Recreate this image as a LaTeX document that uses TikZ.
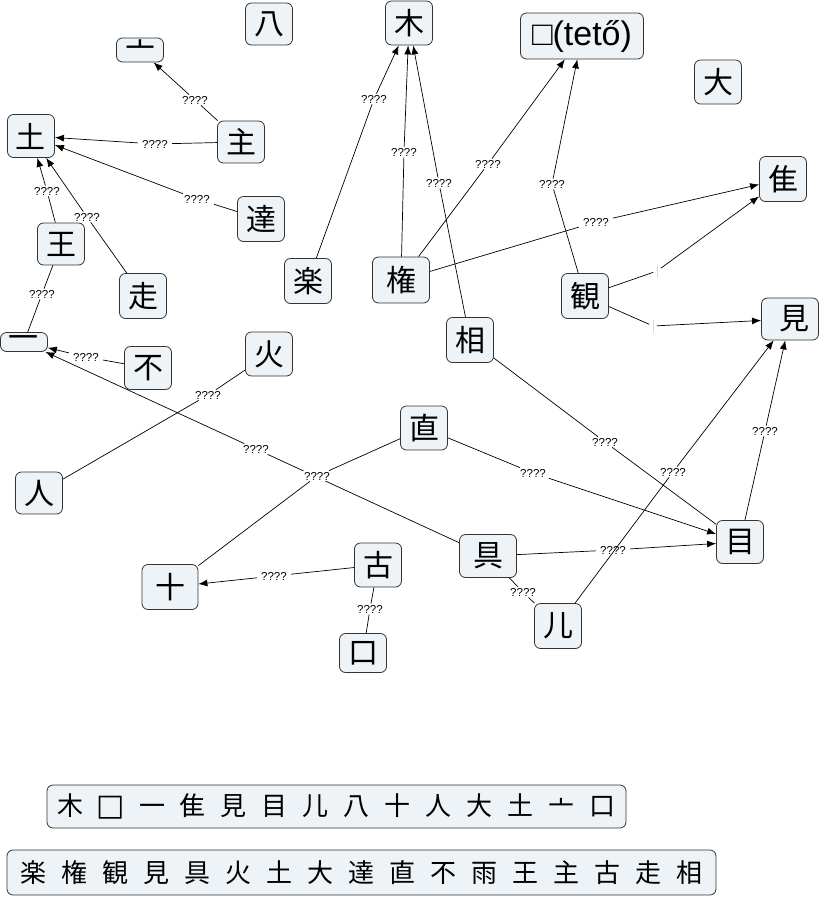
\documentclass[tikz,border=0pt]{standalone}
\usepackage{fontspec}
\newfontfamily\cjk{Noto Sans CJK JP}
\newfontfamily\latinfont{Liberation Sans}
\newfontfamily\boxfont{DejaVu Sans}
\usetikzlibrary{arrows.meta}
\definecolor{conceptfill}{RGB}{237,243,246}
\definecolor{conceptline}{RGB}{51,51,51}
\begin{document}
\begin{tikzpicture}[x=1pt,y=-1pt,line width=.7pt,>={Latex[length=9pt,width=7pt]},
    concept/.style={draw=conceptline,fill=conceptfill,rounded corners=6pt,line width=.8pt,
        minimum width=47pt,minimum height=44pt,inner sep=0pt,font=\cjk\fontsize{30}{30}\selectfont},
    legend/.style={concept,font=\cjk\fontsize{26}{26}\selectfont},
    link/.style={fill=white,inner xsep=4pt,inner ysep=1pt,font=\latinfont\fontsize{11.5}{11.5}\selectfont},
    blank/.style={fill=white,inner sep=0pt,minimum width=7pt,minimum height=14pt}]
    \useasboundingbox (0,0) rectangle (822,898);
    % concepts
    \node[concept,minimum height=42pt] (hachi) at (269,24) {八};
    \node[concept,minimum height=24pt] (nabe) at (140,50) {亠};
    \node[concept] (ki) at (409,23) {木};
    \node[concept,minimum width=123pt,minimum height=46pt,font=\latinfont\fontsize{34}{34}\selectfont] (teto) at (582,36) {□(tető)};
    \node[concept] (dai) at (718,82) {大};
    \node[concept,minimum height=43pt] (tsuchi) at (31,136) {土};
    \node[concept,minimum height=42pt] (shu) at (241,142) {主};
    \node[concept,minimum height=45pt] (furutori) at (783,179) {隹};
    \node[concept,minimum height=45pt] (tatsu) at (261,219) {達};
    \node[concept,minimum height=42pt] (ou) at (61,244) {王};
    \node[concept,minimum height=45pt] (raku) at (308,281) {楽};
    \node[concept,minimum width=57pt,minimum height=46pt] (ken) at (401,280) {権\hspace{8pt}};
    \node[concept,minimum height=45pt] (kan) at (585,296) {観};
    \node[concept,minimum height=45pt] (hashiru) at (143,296) {走};
    \node[concept,minimum width=57pt,minimum height=42pt] (mi) at (790,319) {\hspace{8pt}見};
    \node[concept,minimum height=45pt] (ai) at (470,340) {相};
    \node[concept,minimum height=19pt] (ichi) at (24,342) {一};
    \node[concept] (hi) at (269,354) {火};
    \node[concept,minimum height=43pt] (fu) at (148,368) {不};
    \node[concept] (choku) at (424,428) {直};
    \node[concept,minimum height=42pt] (hito) at (39,493) {人};
    \node[concept,minimum height=43pt] (me) at (740,542) {目};
    \node[concept,minimum width=57pt,minimum height=43pt] (gu) at (488,556) {具\hspace{8pt}};
    \node[concept] (ko) at (378,565) {古};
    \node[concept,minimum width=56pt,minimum height=45pt] (juu) at (170,587) {十\hspace{8pt}};
    \node[concept,minimum height=45pt] (nin) at (558,626) {儿};
    \node[concept,minimum height=39pt] (kuchi) at (363,653) {口};
    % legend
    \node[legend,minimum width=579pt,minimum height=43pt] (leg1) at (336.5,806.5) {\spaceskip=15pt\relax 木 \makebox[26pt]{\boxfont\fontsize{30}{30}\selectfont □} 一 隹 見 目 儿 八 十 人 大 土 亠 口};
    \node[legend,minimum width=709pt,minimum height=45pt] (leg2) at (361.5,872.5) {\spaceskip=15pt\relax 楽 権 観 見 具 火 土 大 達 直 不 雨 王 主 古 走 相};
    % linking phrases
    \node[link] (l1) at (195,100) {????};
    \node[link] (l2) at (155,144) {????};
    \node[link] (l3) at (197,199) {????};
    \node[link] (l4) at (47,191) {????};
    \node[link] (l5) at (87,217) {????};
    \node[link] (l6) at (42,294) {????};
    \node[link] (l7) at (86,357) {????};
    \node[link] (l8) at (208,395) {????};
    \node[link] (l9) at (256,449) {????};
    \node[link] (l11) at (274,576) {????};
    \node[link] (l12) at (370,609) {????};
    \node[link] (l13) at (374,99) {????};
    \node[link] (l14) at (404,152) {????};
    \node[link] (l15) at (439,183) {????};
    \node[link] (l16) at (488,164) {????};
    \node[link] (l17) at (552,184) {????};
    \node[link] (l18) at (596,222) {????};
    \node[blank] (l19) at (657,271) {\color{gray!30}\rule{.6pt}{13pt}};
    \node[blank] (l20) at (653,326) {\color{gray!30}\rule{.6pt}{13pt}};
    \node[link] (l21) at (605,442) {????};
    \node[link] (l22) at (533,473) {????};
    \node[link] (l23) at (613,550) {????};
    \node[link] (l24) at (673,472) {????};
    \node[link] (l25) at (765,431) {????};
    \node[link] (l26) at (523,592) {????};
    % links
    \draw[->] (shu) -- (l1) -- (nabe);
    \draw[->] (shu) -- (l2) -- (tsuchi);
    \draw[->] (tatsu) -- (l3) -- (tsuchi);
    \draw[->] (ou) -- (l4) -- (tsuchi);
    \draw[->] (hashiru) -- (l5) -- (tsuchi);
    \draw (ou) -- (l6) -- (ichi);
    \draw[->] (fu) -- (l7) -- (ichi);
    \draw (hi) -- (l8) -- (hito);
    \draw[->] (gu) -- (l9) -- (ichi);
    \node[link] (l10) at (317,476) {????};
    \draw (choku) -- (l10) -- (juu);
    \draw[->] (ko) -- (l11) -- (juu);
    \draw (ko) -- (l12) -- (kuchi);
    \draw[->] (raku) -- (l13) -- (ki);
    \draw[->] (ken) -- (l14) -- (ki);
    \draw[->] (ai) -- (l15) -- (ki);
    \draw[->] (ken) -- (l16) -- (teto);
    \draw[->] (kan) -- (l17) -- (teto);
    \draw[->] (ken) -- (l18) -- (furutori);
    \draw[->] (kan) -- (l19) -- (furutori);
    \draw[->] (kan) -- (l20) -- (mi);
    \draw (ai) -- (l21) -- (me);
    \draw[->] (choku) -- (l22) -- (me);
    \draw[->] (gu) -- (l23) -- (me);
    \draw[->] (nin) -- (l24) -- (mi);
    \draw[->] (me) -- (l25) -- (mi);
    \draw (gu) -- (l26) -- (nin);
\end{tikzpicture}
\end{document}
